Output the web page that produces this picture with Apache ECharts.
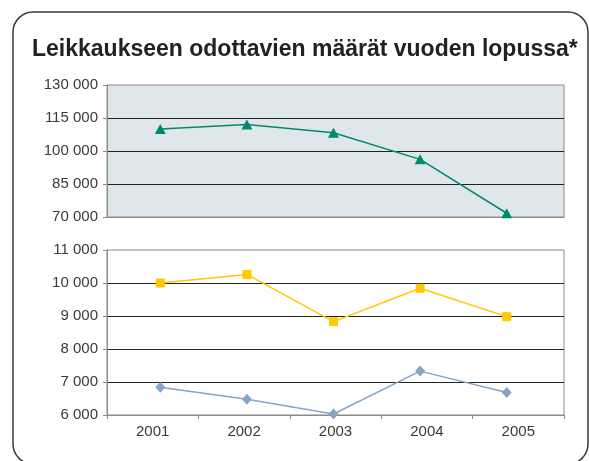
<!DOCTYPE html>
<html>
<head>
<meta charset="utf-8">
<script src="https://cdn.jsdelivr.net/npm/echarts@6/dist/echarts.min.js"></script>
<style>
  html, body { margin: 0; padding: 0; background: #fff; }
  #main { width: 589px; height: 461px; }
</style>
</head>
<body>
<div id="main"></div>
<script>
// data
var years = ["2001", "2002", "2003", "2004", "2005"];
var totalWaiting = [110000, 112100, 108300, 96200, 71700];
var yellowSeries = [10000, 10260, 8830, 9840, 8980];
var blueSeries = [6840, 6480, 6030, 7330, 6680];

var fontName = "Liberation Sans";
var fmt = function (v) {
  return String(v).replace(/\B(?=(\d{3})+(?!\d))/g, " ");
};

var chart = echarts.init(document.getElementById("main"), null, { renderer: "canvas" });

var yAxisBase = function (grid, min, max, step) {
  return {
    type: "value",
    gridIndex: grid,
    min: min,
    max: max,
    interval: step,
    axisLine: { show: true, lineStyle: { color: "#8a8a8a", width: 1 } },
    axisTick: { show: true, length: 4, lineStyle: { color: "#8a8a8a" } },
    axisLabel: {
      color: "#3a3a3a",
      fontSize: 15,
      fontFamily: fontName,
      margin: 9,
      formatter: fmt
    },
    splitLine: {
      show: true,
      showMinLine: false,
      showMaxLine: false,
      lineStyle: { color: "#222", width: 1 }
    }
  };
};

var hiddenY = function (grid, min, max) {
  return { type: "value", gridIndex: grid, min: min, max: max, show: false };
};

chart.setOption({
  animation: false,
  title: {
    text: "Leikkaukseen odottavien määrät vuoden lopussa*",
    left: 27,
    top: 33,
    textStyle: {
      color: "#222",
      fontSize: 23,
      fontWeight: "bold",
      fontFamily: fontName
    }
  },
  graphic: [
    {
      type: "rect",
      shape: { x: 13, y: 12, width: 575, height: 452, r: 20 },
      style: { fill: null, stroke: "#3a3a3a", lineWidth: 1.5 },
      silent: true,
      z: -1
    }
  ],
  grid: [
    // visible frames
    { left: 107, right: 25, top: 85, height: 132, show: true, backgroundColor: "#e0e7ea", borderColor: "#8a8a8a", borderWidth: 1 },
    { left: 107, right: 25, top: 250, height: 165, show: true, backgroundColor: "#fff", borderColor: "#8a8a8a", borderWidth: 1 },
    // data area (markers sit a little inside the category bands)
    { left: 117, right: 39, top: 85, height: 132 },
    { left: 117, right: 39, top: 250, height: 165 }
  ],
  xAxis: [
    {
      type: "category", gridIndex: 0, data: years,
      axisLine: { show: true, lineStyle: { color: "#8a8a8a" } },
      axisTick: { show: false }, axisLabel: { show: false }
    },
    {
      type: "category", gridIndex: 1, data: years,
      axisLine: { show: true, lineStyle: { color: "#8a8a8a" } },
      axisTick: { show: true, length: 4, lineStyle: { color: "#8a8a8a" } },
      axisLabel: { color: "#3a3a3a", fontSize: 15, fontFamily: fontName, margin: 9 }
    },
    { type: "category", gridIndex: 2, data: years, show: false },
    { type: "category", gridIndex: 3, data: years, show: false }
  ],
  yAxis: [
    yAxisBase(0, 70000, 130000, 15000),
    yAxisBase(1, 6000, 11000, 1000),
    hiddenY(2, 70000, 130000),
    hiddenY(3, 6000, 11000)
  ],
  series: [
    {
      name: "yhteensä",
      type: "line",
      xAxisIndex: 2,
      yAxisIndex: 2,
      data: totalWaiting,
      symbol: "triangle",
      symbolSize: [11, 10],
      lineStyle: { color: "#008a6c", width: 1.5 },
      itemStyle: { color: "#008a6c" },
      z: 5
    },
    {
      name: "keltainen",
      type: "line",
      xAxisIndex: 3,
      yAxisIndex: 3,
      data: yellowSeries,
      symbol: "rect",
      symbolSize: 9,
      lineStyle: { color: "#ffc800", width: 1.5 },
      itemStyle: { color: "#ffc800" },
      z: 5
    },
    {
      name: "sininen",
      type: "line",
      xAxisIndex: 3,
      yAxisIndex: 3,
      data: blueSeries,
      symbol: "diamond",
      symbolSize: [10, 11],
      lineStyle: { color: "#86a5c6", width: 1.5 },
      itemStyle: { color: "#86a5c6" },
      z: 5
    }
  ]
});
</script>
</body>
</html>
